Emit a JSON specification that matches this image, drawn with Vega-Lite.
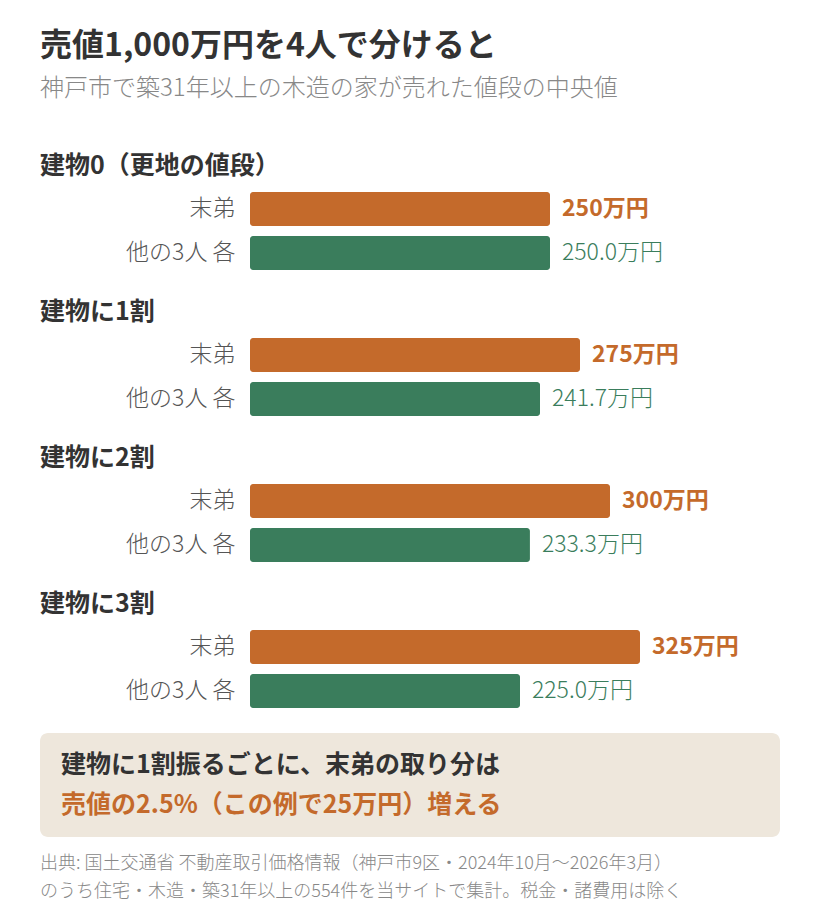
{
  "$schema": "https://vega.github.io/schema/vega-lite/v6.json",
  "padding": {"left": 40, "top": 30, "right": 30, "bottom": 10},
  "background": "white",
  "config": {
    "font": "Noto Sans CJK JP",
    "view": {"stroke": null},
    "text": {"font": "Noto Sans CJK JP"},
    "axis": {"labelFont": "Noto Sans CJK JP"},
    "title": {"font": "Noto Sans CJK JP", "subtitleFont": "Noto Sans CJK JP"}
  },
  "title": {
    "text": "売値1,000万円を4人で分けると",
    "subtitle": "神戸市で築31年以上の木造の家が売れた値段の中央値",
    "anchor": "start",
    "fontSize": 32,
    "fontWeight": "bold",
    "color": "#333333",
    "subtitleFontSize": 24,
    "subtitleFontWeight": 300,
    "subtitleColor": "#888888",
    "subtitlePadding": 14,
    "offset": 52
  },
  "datasets": {
    "bars": [
      {"group": "建物0（更地の値段）", "person": "末弟", "value": 250, "label": "250万円"},
      {"group": "建物0（更地の値段）", "person": "他の3人 各", "value": 250.0, "label": "250.0万円"},
      {"group": "建物に1割", "person": "末弟", "value": 275, "label": "275万円"},
      {"group": "建物に1割", "person": "他の3人 各", "value": 241.7, "label": "241.7万円"},
      {"group": "建物に2割", "person": "末弟", "value": 300, "label": "300万円"},
      {"group": "建物に2割", "person": "他の3人 各", "value": 233.3, "label": "233.3万円"},
      {"group": "建物に3割", "person": "末弟", "value": 325, "label": "325万円"},
      {"group": "建物に3割", "person": "他の3人 各", "value": 225.0, "label": "225.0万円"}
    ],
    "note": [
      {"line": "l1", "text": "建物に1割振るごとに、末弟の取り分は"},
      {"line": "l2", "text": "売値の2.5%（この例で25万円）増える"}
    ]
  },
  "spacing": 20,
  "resolve": {"scale": {"color": "independent"}},
  "vconcat": [
    {
      "spacing": 25,
      "vconcat": [
        {
          "title": {"text": "建物0（更地の値段）", "anchor": "start", "frame": "group", "fontSize": 25, "fontWeight": "bold", "color": "#333333", "offset": 8},
          "width": 750,
          "height": {"step": 44},
          "data": {"name": "bars"},
          "transform": [{"filter": "datum.group === '建物0（更地の値段）'"}],
          "encoding": {
            "y": {"field": "person", "type": "nominal", "sort": ["末弟", "他の3人 各"], "scale": {"paddingInner": 0, "paddingOuter": 0},
              "axis": {"title": null, "domain": false, "ticks": false, "labelFontSize": 23, "labelFontWeight": 300, "labelColor": "#555555", "labelPadding": -195, "labelAlign": "right"}},
            "x": {"field": "value", "type": "quantitative", "scale": {"domain": [-175, 450]}, "axis": null}
          },
          "layer": [
            {"mark": {"type": "bar", "cornerRadius": 3, "size": 34},
             "encoding": {"color": {"field": "person", "type": "nominal", "scale": {"domain": ["末弟", "他の3人 各"], "range": ["#C46A2B", "#3A7D5C"]}, "legend": null}}},
            {"transform": [{"filter": "datum.person === '末弟'"}],
             "mark": {"type": "text", "align": "left", "dx": 12, "fontSize": 23, "fontWeight": "bold", "color": "#C46A2B"},
             "encoding": {"text": {"field": "label"}}},
            {"transform": [{"filter": "datum.person !== '末弟'"}],
             "mark": {"type": "text", "align": "left", "dx": 12, "fontSize": 23, "fontWeight": 300, "color": "#3A7D5C"},
             "encoding": {"text": {"field": "label"}}}
          ]
        },
        {
          "title": {"text": "建物に1割", "anchor": "start", "frame": "group", "fontSize": 25, "fontWeight": "bold", "color": "#333333", "offset": 8},
          "width": 750,
          "height": {"step": 44},
          "data": {"name": "bars"},
          "transform": [{"filter": "datum.group === '建物に1割'"}],
          "encoding": {
            "y": {"field": "person", "type": "nominal", "sort": ["末弟", "他の3人 各"], "scale": {"paddingInner": 0, "paddingOuter": 0},
              "axis": {"title": null, "domain": false, "ticks": false, "labelFontSize": 23, "labelFontWeight": 300, "labelColor": "#555555", "labelPadding": -195, "labelAlign": "right"}},
            "x": {"field": "value", "type": "quantitative", "scale": {"domain": [-175, 450]}, "axis": null}
          },
          "layer": [
            {"mark": {"type": "bar", "cornerRadius": 3, "size": 34},
             "encoding": {"color": {"field": "person", "type": "nominal", "scale": {"domain": ["末弟", "他の3人 各"], "range": ["#C46A2B", "#3A7D5C"]}, "legend": null}}},
            {"transform": [{"filter": "datum.person === '末弟'"}],
             "mark": {"type": "text", "align": "left", "dx": 12, "fontSize": 23, "fontWeight": "bold", "color": "#C46A2B"},
             "encoding": {"text": {"field": "label"}}},
            {"transform": [{"filter": "datum.person !== '末弟'"}],
             "mark": {"type": "text", "align": "left", "dx": 12, "fontSize": 23, "fontWeight": 300, "color": "#3A7D5C"},
             "encoding": {"text": {"field": "label"}}}
          ]
        },
        {
          "title": {"text": "建物に2割", "anchor": "start", "frame": "group", "fontSize": 25, "fontWeight": "bold", "color": "#333333", "offset": 8},
          "width": 750,
          "height": {"step": 44},
          "data": {"name": "bars"},
          "transform": [{"filter": "datum.group === '建物に2割'"}],
          "encoding": {
            "y": {"field": "person", "type": "nominal", "sort": ["末弟", "他の3人 各"], "scale": {"paddingInner": 0, "paddingOuter": 0},
              "axis": {"title": null, "domain": false, "ticks": false, "labelFontSize": 23, "labelFontWeight": 300, "labelColor": "#555555", "labelPadding": -195, "labelAlign": "right"}},
            "x": {"field": "value", "type": "quantitative", "scale": {"domain": [-175, 450]}, "axis": null}
          },
          "layer": [
            {"mark": {"type": "bar", "cornerRadius": 3, "size": 34},
             "encoding": {"color": {"field": "person", "type": "nominal", "scale": {"domain": ["末弟", "他の3人 各"], "range": ["#C46A2B", "#3A7D5C"]}, "legend": null}}},
            {"transform": [{"filter": "datum.person === '末弟'"}],
             "mark": {"type": "text", "align": "left", "dx": 12, "fontSize": 23, "fontWeight": "bold", "color": "#C46A2B"},
             "encoding": {"text": {"field": "label"}}},
            {"transform": [{"filter": "datum.person !== '末弟'"}],
             "mark": {"type": "text", "align": "left", "dx": 12, "fontSize": 23, "fontWeight": 300, "color": "#3A7D5C"},
             "encoding": {"text": {"field": "label"}}}
          ]
        },
        {
          "title": {"text": "建物に3割", "anchor": "start", "frame": "group", "fontSize": 25, "fontWeight": "bold", "color": "#333333", "offset": 8},
          "width": 750,
          "height": {"step": 44},
          "data": {"name": "bars"},
          "transform": [{"filter": "datum.group === '建物に3割'"}],
          "encoding": {
            "y": {"field": "person", "type": "nominal", "sort": ["末弟", "他の3人 各"], "scale": {"paddingInner": 0, "paddingOuter": 0},
              "axis": {"title": null, "domain": false, "ticks": false, "labelFontSize": 23, "labelFontWeight": 300, "labelColor": "#555555", "labelPadding": -195, "labelAlign": "right"}},
            "x": {"field": "value", "type": "quantitative", "scale": {"domain": [-175, 450]}, "axis": null}
          },
          "layer": [
            {"mark": {"type": "bar", "cornerRadius": 3, "size": 34},
             "encoding": {"color": {"field": "person", "type": "nominal", "scale": {"domain": ["末弟", "他の3人 各"], "range": ["#C46A2B", "#3A7D5C"]}, "legend": null}}},
            {"transform": [{"filter": "datum.person === '末弟'"}],
             "mark": {"type": "text", "align": "left", "dx": 12, "fontSize": 23, "fontWeight": "bold", "color": "#C46A2B"},
             "encoding": {"text": {"field": "label"}}},
            {"transform": [{"filter": "datum.person !== '末弟'"}],
             "mark": {"type": "text", "align": "left", "dx": 12, "fontSize": 23, "fontWeight": 300, "color": "#3A7D5C"},
             "encoding": {"text": {"field": "label"}}}
          ]
        }
      ]
    },
    {
      "width": 740,
      "height": 104,
      "view": {"fill": "#EEE7DC", "stroke": null, "cornerRadius": 8},
      "title": {
        "text": ["出典: 国土交通省 不動産取引価格情報（神戸市9区・2024年10月〜2026年3月）", "のうち住宅・木造・築31年以上の554件を当サイトで集計。税金・諸費用は除く"],
        "orient": "bottom",
        "anchor": "start",
        "fontSize": 18,
        "fontWeight": 300,
        "color": "#888888",
        "lineHeight": 28,
        "offset": 18
      },
      "data": {"name": "note"},
      "encoding": {
        "x": {"datum": 0, "type": "quantitative", "scale": {"domain": [0, 1]}, "axis": null},
        "y": {"field": "line", "type": "nominal", "scale": {"type": "point", "padding": 0.8}, "axis": null},
        "text": {"field": "text"}
      },
      "layer": [
        {"transform": [{"filter": "datum.line === 'l1'"}],
         "mark": {"type": "text", "align": "left", "dx": 21, "fontSize": 25, "fontWeight": "bold", "color": "#333333"}},
        {"transform": [{"filter": "datum.line === 'l2'"}],
         "mark": {"type": "text", "align": "left", "dx": 21, "fontSize": 25, "fontWeight": "bold", "color": "#C46A2B"}}
      ]
    }
  ]
}
